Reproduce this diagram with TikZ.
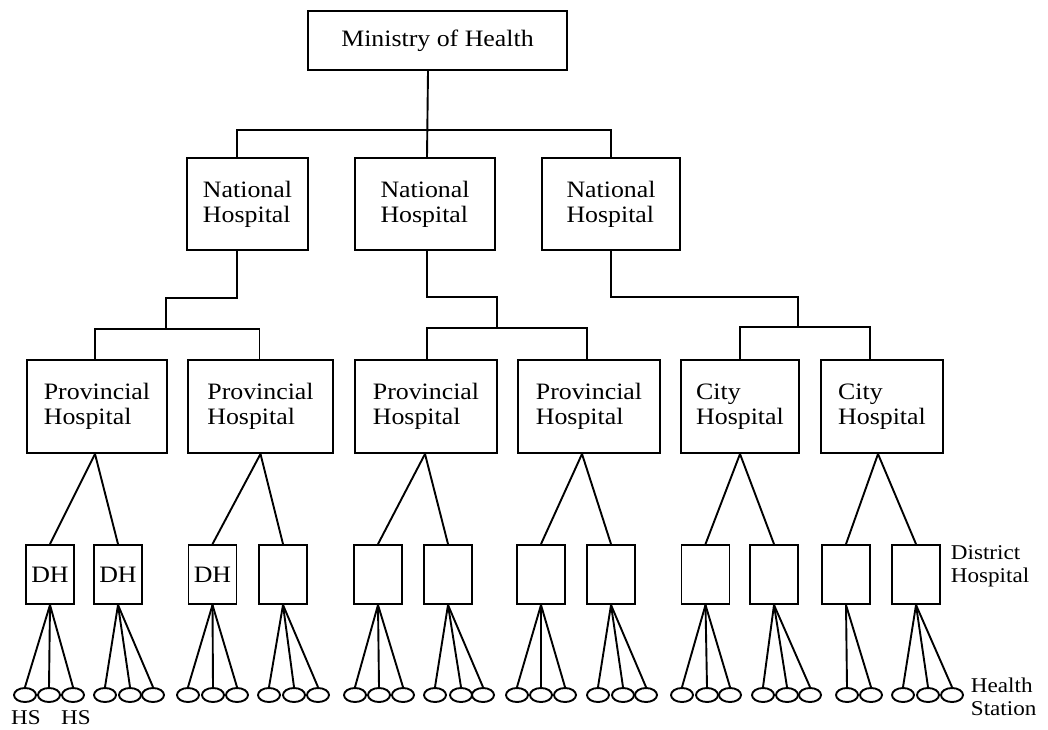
\documentclass[tikz,border=0pt]{standalone}
\usepackage{fontspec}
\setmainfont{Liberation Serif}[FakeStretch=1.1]
\usetikzlibrary{shapes.geometric}
\begin{document}
\begin{tikzpicture}[x=1pt,y=-1pt, line width=1.9pt,
  box/.style={draw, rectangle, inner sep=0pt, align=left, font=\fontsize{23.5}{25}\selectfont},
  dh/.style={box, minimum width=48pt, minimum height=59pt},
  prov/.style={box, minimum height=93pt},
  nat/.style={box, minimum height=92pt},
  hs/.style={draw, ellipse, minimum width=22pt, minimum height=14pt, inner sep=0pt},
  lbl/.style={font=\fontsize{21}{23}\selectfont, align=left, inner sep=0pt}]
\useasboundingbox (0,0) rectangle (1048,729);

% top
\node[box, minimum width=259pt, minimum height=59pt] (min) at (437.5,40.5) {Ministry of Health};
\node[nat, minimum width=121pt] (nat1) at (247.5,204) {National\\Hospital};
\node[nat, minimum width=140pt] (nat2) at (425,204) {National\\Hospital};
\node[nat, minimum width=138pt] (nat3) at (611,204) {National\\Hospital};

\coordinate (b0) at (428,130);
\draw ([xshift=-9.5pt]min.south) -- ([xshift=2pt]nat2.north);
\draw ([xshift=-10.5pt]nat1.north) |- (b0) -| (nat3.north);

% provincial / city
\node[prov, minimum width=140pt] (p1) at (97,406.5) {Provincial\\Hospital};
\node[prov, minimum width=145pt] (p2) at (260.5,406.5) {Provincial\\Hospital};
\node[prov, minimum width=142pt] (p3) at (426,406.5) {Provincial\\Hospital};
\node[prov, minimum width=142pt] (p4) at (589,406.5) {Provincial\\Hospital};
\node[prov, minimum width=118pt] (c1) at (740,406.5) {City\\Hospital};
\node[prov, minimum width=122pt] (c2) at (882,406.5) {City\\Hospital};

\coordinate (j1) at (166,298); \coordinate (k1) at (166,329);
\coordinate (j2) at (497,297); \coordinate (k2) at (497,328);
\coordinate (j3) at (798,297); \coordinate (k3) at (798,327);

\draw ([xshift=-10.5pt]nat1.south) |- (j1) -- (k1);
\draw ([xshift=-2pt]p1.north) |- (k1) -| ([xshift=-1pt]p2.north);
\draw ([xshift=2pt]nat2.south) |- (j2) -- (k2);
\draw ([xshift=1pt]p3.north) |- (k2) -| ([xshift=-2pt]p4.north);
\draw (nat3.south) |- (j3) -- (k3);
\draw (c1.north) |- (k3) -| ([xshift=-12pt]c2.north);

% district hospitals
\node[dh] (dh1) at (50,574.5) {DH};
\node[dh] (dh2) at (118,574.5) {DH};
\node[dh] (dh3) at (212.5,574.5) {DH};
\node[dh] (dh4) at (283,574.5) {};
\node[dh] (dh5) at (378,574.5) {};
\node[dh] (dh6) at (448,574.5) {};
\node[dh] (dh7) at (541,574.5) {};
\node[dh] (dh8) at (611,574.5) {};
\node[dh] (dh9) at (705.5,574.5) {};
\node[dh] (dh10) at (774,574.5) {};
\node[dh] (dh11) at (846,574.5) {};
\node[dh] (dh12) at (916,574.5) {};

\draw ([xshift=-2pt]p1.south) -- (dh1.north);
\draw ([xshift=-2pt]p1.south) -- (dh2.north);
\draw (p2.south) -- (dh3.north);
\draw (p2.south) -- (dh4.north);
\draw ([xshift=-1pt]p3.south) -- (dh5.north);
\draw ([xshift=-1pt]p3.south) -- (dh6.north);
\draw ([xshift=-7pt]p4.south) -- (dh7.north);
\draw ([xshift=-7pt]p4.south) -- (dh8.north);
\draw (c1.south) -- (dh9.north);
\draw (c1.south) -- (dh10.north);
\draw ([xshift=-4pt]c2.south) -- (dh11.north);
\draw ([xshift=-4pt]c2.south) -- (dh12.north);

% health stations
\foreach \d/\a/\b/\c in {1/25/49/73, 2/105/130/153, 3/188/213/237, 4/269/294/318,
  5/355/379/403, 6/435/461/483, 7/517/541/565, 8/598/623/646,
  9/682/707/730, 10/763/787/810, 12/903/928/952} {
  \node[hs] (h\d a) at (\a,695) {};
  \node[hs] (h\d b) at (\b,695) {};
  \node[hs] (h\d c) at (\c,695) {};
  \draw (dh\d.south) -- (h\d a.north);
  \draw (dh\d.south) -- (h\d b.north);
  \draw (dh\d.south) -- (h\d c.north);
}
\node[hs] (h11a) at (847,695) {};
\node[hs] (h11b) at (871,695) {};
\draw (dh11.south) -- (h11a.north);
\draw (dh11.south) -- (h11b.north);

% labels
\node[lbl, anchor=base] (hsl1) at (26,724) {HS};
\node[lbl, anchor=base] (hsl2) at (76,724) {HS};
\node[lbl, anchor=west] (dhl) at (950,566) {District\\Hospital};
\node[lbl, anchor=west] (hsl) at (970,697) {Health\\Station};
\end{tikzpicture}
\end{document}
